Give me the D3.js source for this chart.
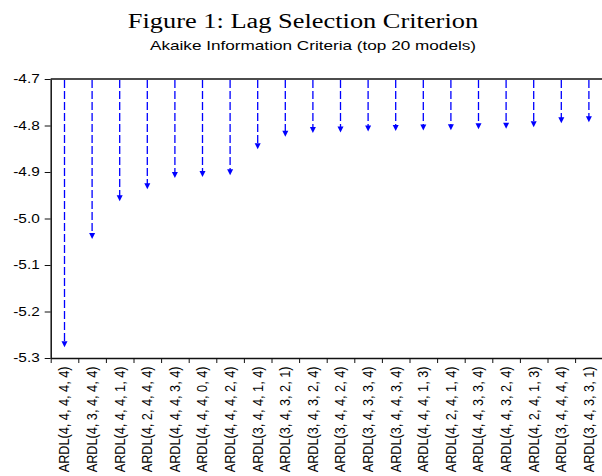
<!DOCTYPE html>
<html lang="en">
<head>
  <meta charset="UTF-8">
  <title>Lag Selection Criterion</title>
  <script src="https://d3js.org/d3.v7.min.js"></script>
  <style>
    body { margin: 0; background: #fff; }
    svg { display: block; }
    .tick text { font-family: 'Liberation Sans', Arial, sans-serif; font-size: 12px; fill: #000; }
  </style>
</head>
<body>
  <svg width="602" height="476"></svg>
  <script>
    // Model labels (x categories)
    const models = [
      "ARDL(4, 4, 4, 4, 4)", "ARDL(4, 3, 4, 4, 4)", "ARDL(4, 4, 4, 1, 4)", "ARDL(4, 2, 4, 4, 4)",
      "ARDL(4, 4, 4, 3, 4)", "ARDL(4, 4, 4, 0, 4)", "ARDL(4, 4, 4, 2, 4)", "ARDL(3, 4, 4, 1, 4)",
      "ARDL(3, 4, 3, 2, 1)", "ARDL(3, 4, 3, 2, 4)", "ARDL(3, 4, 4, 2, 4)", "ARDL(3, 4, 3, 3, 4)",
      "ARDL(3, 4, 4, 3, 4)", "ARDL(4, 4, 4, 1, 3)", "ARDL(4, 2, 4, 1, 4)", "ARDL(4, 4, 3, 3, 4)",
      "ARDL(4, 4, 3, 2, 4)", "ARDL(4, 2, 4, 1, 3)", "ARDL(3, 4, 4, 4, 4)", "ARDL(3, 4, 3, 3, 1)"
    ];
    // AIC values
    const aic = [
      -5.277, -5.044, -4.963, -4.937, -4.913, -4.911, -4.907, -4.851, -4.824, -4.816,
      -4.815, -4.813, -4.812, -4.811, -4.810, -4.808, -4.807, -4.804, -4.795, -4.793
    ];
    const yTicks = [-4.7, -4.8, -4.9, -5.0, -5.1, -5.2, -5.3];

    const svg = d3.select("svg");
    const plotLeft = 50.7, plotRight = 602.7, plotTop = 79, plotBottom = 358;
    const stretch = 1.32; // the original figure is widened horizontally

    // Titles
    svg.append("text")
      .attr("transform", `translate(303,28) scale(${stretch},1)`)
      .attr("text-anchor", "middle")
      .style("font-family", "'Liberation Serif', 'Times New Roman', serif")
      .style("font-size", "20px")
      .text("Figure 1: Lag Selection Criterion");

    svg.append("text")
      .attr("transform", `translate(313,50) scale(${stretch},1)`)
      .attr("text-anchor", "middle")
      .style("font-family", "'Liberation Sans', Arial, sans-serif")
      .style("font-size", "13px")
      .text("Akaike Information Criteria (top 20 models)");

    const x = d3.scaleBand().domain(models).range([plotLeft, plotRight]);
    const xEdge = d3.scaleLinear().domain([0, models.length]).range([plotLeft, plotRight]);
    const y = d3.scaleLinear().domain([-5.3, -4.7]).range([plotBottom, plotTop]);

    // Top frame line
    svg.append("line")
      .attr("x1", plotLeft).attr("x2", plotRight)
      .attr("y1", y(-4.7)).attr("y2", y(-4.7))
      .attr("stroke", "#111").attr("stroke-width", 1.5);

    // Left axis
    const yAxis = svg.append("g")
      .attr("transform", `translate(${plotLeft},0)`)
      .call(d3.axisLeft(y).tickValues(yTicks)
        .tickSize(6).tickSizeOuter(0).tickPadding(5));
    yAxis.select(".domain").attr("stroke", "#111").attr("stroke-width", 1.5);
    yAxis.selectAll(".tick line").attr("stroke", "#111");
    yAxis.selectAll(".tick text")
      .attr("x", 0)
      .attr("transform", `translate(-11,0) scale(1.28,1)`)
      .text(d => d.toFixed(1));

    // Bottom axis, ticks at category boundaries
    const xAxis = svg.append("g")
      .attr("transform", `translate(0,${plotBottom})`)
      .call(d3.axisBottom(xEdge).tickValues(d3.range(models.length + 1))
        .tickFormat("").tickSize(5).tickSizeOuter(0));
    xAxis.select(".domain").attr("stroke", "#111").attr("stroke-width", 1.5);
    xAxis.selectAll(".tick line").attr("stroke", "#111");

    // Rotated category labels
    svg.append("g").selectAll("text")
      .data(models)
      .join("text")
      .attr("transform", d => `translate(${x(d) + x.bandwidth() / 2},366.5) rotate(-90) scale(1,1.1)`)
      .attr("text-anchor", "end")
      .attr("dy", "0.35em")
      .style("font-family", "'Liberation Sans', Arial, sans-serif")
      .style("font-size", "12.7px")
      .text(d => d);

    // Dashed stems with arrowheads
    const pts = models.map((m, i) => ({ m, v: aic[i] }));
    const cx = d => x(d.m) + x.bandwidth() / 2;

    svg.append("g").selectAll("line")
      .data(pts)
      .join("line")
      .attr("x1", cx).attr("x2", cx)
      .attr("y1", y(-4.7) + 1).attr("y2", d => y(d.v) - 5)
      .attr("stroke", "#0000ff")
      .attr("stroke-width", 1.3)
      .attr("stroke-dasharray", "8,3");

    svg.append("g").selectAll("path")
      .data(pts)
      .join("path")
      .attr("d", d => {
        const px = cx(d), py = y(d.v);
        return `M${px - 3},${py - 6}L${px + 3},${py - 6}L${px},${py}Z`;
      })
      .attr("fill", "#0000ff");
  </script>
</body>
</html>
